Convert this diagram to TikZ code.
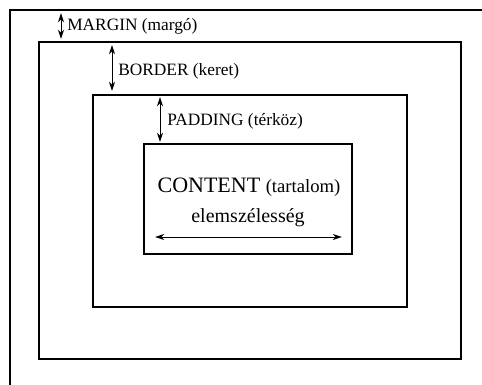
\documentclass[tikz,border=0pt]{standalone}
\usepackage{fontspec}
\setmainfont{Liberation Serif}
\usetikzlibrary{arrows.meta}

\begin{document}
\begin{tikzpicture}[x=0.75pt,y=-0.75pt,
  boxline/.style={draw,line width=1.5pt},
  dimarrow/.style={{Stealth[length=7pt,width=4.5pt]}-{Stealth[length=7pt,width=4.5pt]},line width=0.7pt},
  lbl/.style={anchor=base west,inner sep=0pt,font=\fontsize{13}{15}\selectfont}]
\useasboundingbox (0,0) rectangle (482,385);
\clip (0,0) rectangle (482,385);
% nested boxes
\draw[boxline] (10,10) rectangle (495,400);
\draw[boxline] (39,42) rectangle (461,359);
\draw[boxline] (93,95) rectangle (407,307);
\draw[boxline] (144,144) rectangle (352,254);
% dimension ends
\coordinate (mtop) at (61,13);
\coordinate (mbot) at (61,39);
\coordinate (btop) at (112,45);
\coordinate (bbot) at (112,91);
\coordinate (ptop) at (160,97);
\coordinate (pbot) at (160,142);
\coordinate (wleft) at (155,237);
\coordinate (wright) at (342,237);
\draw[dimarrow] (mtop) -- (mbot);
\draw[dimarrow] (btop) -- (bbot);
\draw[dimarrow] (ptop) -- (pbot);
\draw[dimarrow] (wleft) -- (wright);
% labels
\node[lbl] (margin) at (67,31) {MARGIN (margó)};
\node[lbl] (border) at (118,75) {BORDER (keret)};
\node[lbl] (padding) at (167,126) {PADDING (térköz)};
\node[anchor=base,inner sep=0pt] (content) at (249,192)
  {\fontsize{16.5}{18}\selectfont CONTENT \fontsize{14}{16}\selectfont(tartalom)};
\node[anchor=base,inner sep=0pt,font=\fontsize{15}{17}\selectfont] (width) at (248,222) {elemszélesség};
\end{tikzpicture}
\end{document}
